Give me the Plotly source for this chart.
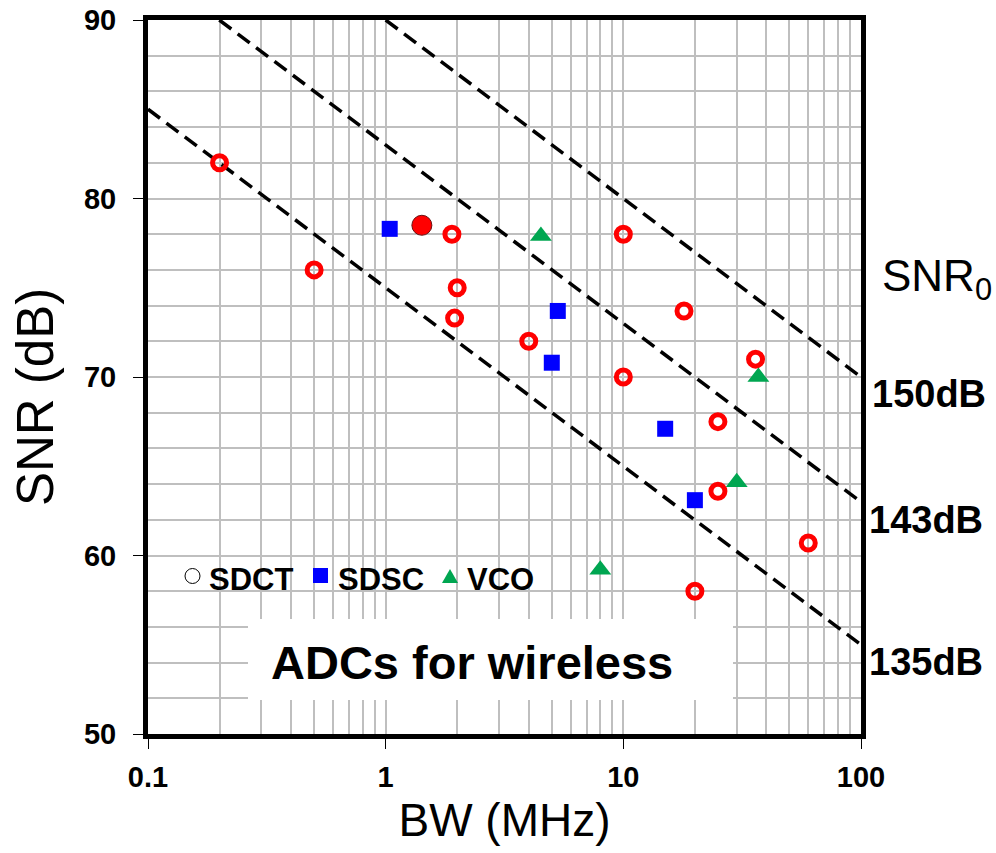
import numpy as np
import plotly.graph_objects as go

# ---------------- data ----------------
sdct_bw = [0.2, 0.5, 1.9, 2.0, 1.95, 4.0, 10, 10, 18, 36, 25, 25, 20, 60]
sdct_snr = [82, 76, 78, 75, 73.3, 72, 78, 70, 73.7, 71, 67.5, 63.6, 58, 60.7]
sdct_fill_bw = [1.42]
sdct_fill_snr = [78.5]
sdsc_bw = [1.04, 5.3, 5.0, 15, 20]
sdsc_snr = [78.3, 73.7, 70.8, 67.1, 63.1]
vco_bw = [4.5, 37, 30, 8]
vco_snr = [77.9, 70.0, 64.1, 59.2]
fom_levels = [150, 143, 135]          # SNR0 (dB)
fom_labels = ["150dB", "143dB", "135dB"]
x_tick_vals = [0.1, 1, 10, 100]
x_tick_text = ["0.1", "1", "10", "100"]
y_tick_vals = [50, 60, 70, 80, 90]

# ---------------- layout geometry ----------------
W, H = 996, 853
L, R, T, B = 148, 861, 20, 734
FONT = "Liberation Sans, Arial, sans-serif"
GRID = "#BFBFBF"


def px(x):
    return (x - L) / (R - L)


def py(y):
    return (B - y) / (B - T)


fig = go.Figure()

# FOM lines: SNR = SNR0 - 10 log10(BW[Hz])
for f in fom_levels:
    x0 = max(0.1, 10 ** ((f - 90) / 10) / 1e6)
    xs = [x0, 100]
    ys = [f - 10 * np.log10(v * 1e6) for v in xs]
    fig.add_trace(go.Scatter(x=xs, y=ys, mode="lines", showlegend=False,
                             line=dict(color="black", width=3.5, dash="15px,8px"),
                             hoverinfo="skip"))

fig.add_trace(go.Scatter(x=sdct_bw, y=sdct_snr, mode="markers", name="SDCT",
                         marker=dict(symbol="circle-open", size=14, color="#FF0000",
                                     line=dict(width=5, color="#FF0000"))))
fig.add_trace(go.Scatter(x=sdct_fill_bw, y=sdct_fill_snr, mode="markers", name="SDCT",
                         marker=dict(symbol="circle", size=20, color="#FF0000",
                                     line=dict(width=1, color="#6a1010"))))
fig.add_trace(go.Scatter(x=sdsc_bw, y=sdsc_snr, mode="markers", name="SDSC",
                         marker=dict(symbol="square", size=16, color="#0000FF")))
fig.add_trace(go.Scatter(x=vco_bw, y=vco_snr, mode="markers", name="VCO",
                         marker=dict(symbol="triangle-up", size=19, color="#00A651")))

minor_x = [m * 10.0 ** d for d in (-1, 0, 1) for m in range(2, 10)]

fig.update_xaxes(type="log", range=[-1, 2], tickvals=x_tick_vals, ticktext=x_tick_text,
                 showgrid=True, gridcolor=GRID, gridwidth=1.5,
                 minor=dict(tickvals=minor_x, showgrid=True, gridcolor=GRID, gridwidth=1.5,
                            ticklen=0),
                 showline=True, linewidth=5, linecolor="black", mirror=True,
                 ticks="outside", ticklen=10, tickwidth=1, tickcolor="black",
                 ticklabelstandoff=3, zeroline=False, automargin=False,
                 tickfont=dict(family=FONT, size=29, color="black", weight="bold"),
                 title=dict(text="BW (MHz)", standoff=14,
                            font=dict(family=FONT, size=46, color="black")))
fig.update_yaxes(range=[50, 90], tickvals=y_tick_vals,
                 showgrid=True, gridcolor=GRID, gridwidth=1.5,
                 minor=dict(dtick=2, showgrid=True, gridcolor=GRID, gridwidth=1.5, ticklen=0),
                 showline=True, linewidth=5, linecolor="black", mirror=True,
                 ticks="outside", ticklen=10, tickwidth=1, tickcolor="black",
                 ticklabelstandoff=11, zeroline=False, automargin=False,
                 tickfont=dict(family=FONT, size=29, color="black", weight="bold"))

shapes = [
    # white box behind the title text
    dict(type="rect", xref="paper", yref="paper", x0=px(248), x1=px(733),
         y0=py(700), y1=py(619), fillcolor="white", line=dict(width=0), layer="above"),
    # legend glyphs
    dict(type="circle", xref="paper", yref="paper", xsizemode="pixel", ysizemode="pixel",
         xanchor=px(192.5), yanchor=py(576), x0=-7.5, x1=7.5, y0=-7.5, y1=7.5,
         fillcolor="white", line=dict(color="black", width=1), layer="above"),
    dict(type="rect", xref="paper", yref="paper", xsizemode="pixel", ysizemode="pixel",
         xanchor=px(320.5), yanchor=py(575.5), x0=-7.5, x1=7.5, y0=-7.5, y1=7.5,
         fillcolor="#0000FF", line=dict(width=0), layer="above"),
    dict(type="path", xref="paper", yref="paper", xsizemode="pixel", ysizemode="pixel",
         xanchor=px(450), yanchor=py(576), path="M -8 -7 L 8 -7 L 0 7 Z",
         fillcolor="#00A651", line=dict(width=0), layer="above"),
]

annotations = [
    dict(text="SNR (dB)", x=px(35), y=py(397), xref="paper", yref="paper",
         showarrow=False, xanchor="center", yanchor="middle", textangle=-90,
         font=dict(family=FONT, size=51, color="black")),
    dict(text="ADCs for wireless", x=px(472), y=py(662), xref="paper", yref="paper",
         showarrow=False, xanchor="center", yanchor="middle",
         font=dict(family=FONT, size=47, color="black", weight="bold")),
    dict(text="SNR<sub>0</sub>", x=px(880), y=py(279), xref="paper", yref="paper",
         showarrow=False, xanchor="left", yanchor="middle",
         font=dict(family=FONT, size=44, color="black")),
]
for lbl, yy, xx in zip(fom_labels, [394, 520, 662], [870, 867, 867]):
    annotations.append(dict(text=lbl, x=px(xx), y=py(yy), xref="paper", yref="paper",
                            showarrow=False, xanchor="left", yanchor="middle",
                            font=dict(family=FONT, size=38, color="black", weight="bold")))
for lbl, xx in zip(["SDCT", "SDSC", "VCO"], [207, 336, 465]):
    annotations.append(dict(text=lbl, x=px(xx), y=py(579), xref="paper", yref="paper",
                            showarrow=False, xanchor="left", yanchor="middle",
                            font=dict(family=FONT, size=31, color="black", weight="bold")))

fig.update_layout(width=W, height=H, autosize=False,
                  margin=dict(l=L, r=W - R, t=T, b=H - B, pad=0),
                  paper_bgcolor="white", plot_bgcolor="white",
                  showlegend=False, shapes=shapes, annotations=annotations,
                  font=dict(family=FONT, color="black"))

fig.write_html("out.html")
